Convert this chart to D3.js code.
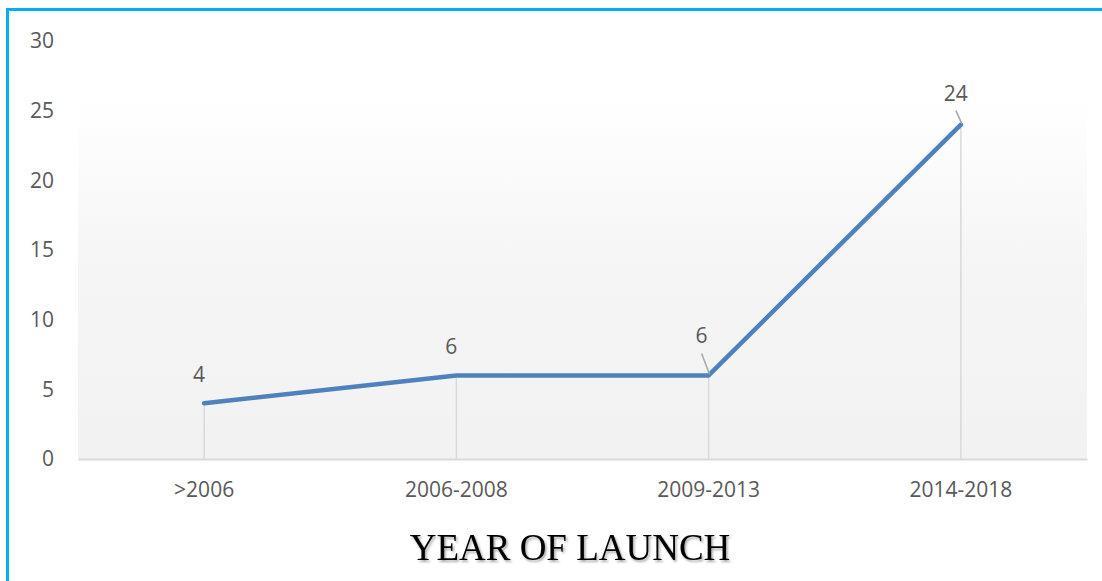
<!DOCTYPE html>
<html>
<head>
<meta charset="utf-8">
<script src="https://cdn.jsdelivr.net/npm/d3@7"></script>
<style>
  html, body { margin: 0; padding: 0; background: #fff; }
  svg { display: block; }
</style>
</head>
<body>
<svg id="chart" width="1102" height="581"></svg>
<script>
// Launch counts by period
const categories = [">2006", "2006-2008", "2009-2013", "2014-2018"];
const counts = [4, 6, 6, 24];
const yTicks = [0, 5, 10, 15, 20, 25, 30];
const axisTitle = "YEAR OF LAUNCH";

const svg = d3.select("#chart");
const W = 1102, H = 581;
const plot = { left: 78, right: 1087, top: 41, bottom: 459 };

// Frame: cyan rule on the left and top edges
svg.append("rect").attr("x", 6).attr("y", 8).attr("width", 3).attr("height", H - 8).attr("fill", "#00B0F0");
svg.append("rect").attr("x", 6).attr("y", 8).attr("width", W - 6).attr("height", 3).attr("fill", "#00B0F0");

const defs = svg.append("defs");
const grad = defs.append("linearGradient").attr("id", "plotFill")
  .attr("x1", 0).attr("y1", 0).attr("x2", 0).attr("y2", 1);
grad.append("stop").attr("offset", "0%").attr("stop-color", "#ffffff");
grad.append("stop").attr("offset", "13%").attr("stop-color", "#ffffff");
grad.append("stop").attr("offset", "55%").attr("stop-color", "#f5f5f5");
grad.append("stop").attr("offset", "100%").attr("stop-color", "#f2f2f2");

const shadow = defs.append("filter").attr("id", "titleShadow")
  .attr("x", "-10%").attr("y", "-30%").attr("width", "120%").attr("height", "160%");
shadow.append("feDropShadow").attr("dx", 1.5).attr("dy", 2).attr("stdDeviation", 1.2)
  .attr("flood-color", "#000").attr("flood-opacity", 0.35);

const x = d3.scaleBand().domain(categories).range([plot.left, plot.right]).padding(0);
const y = d3.scaleLinear().domain([0, 30]).range([plot.bottom, plot.top]);
const cx = d => x(d) + x.bandwidth() / 2;

svg.append("rect")
  .attr("x", plot.left).attr("y", plot.top)
  .attr("width", plot.right - plot.left).attr("height", plot.bottom - plot.top)
  .attr("fill", "url(#plotFill)");

// Drop lines from each point to the category axis
svg.append("g").selectAll("line").data(categories).join("line")
  .attr("x1", d => cx(d)).attr("x2", d => cx(d))
  .attr("y1", (d, i) => y(counts[i])).attr("y2", plot.bottom)
  .attr("stroke", "#d9d9d9").attr("stroke-width", 1.5);

// Category axis
const xAxis = svg.append("g").attr("transform", `translate(0,${plot.bottom})`)
  .call(d3.axisBottom(x).tickSize(0).tickPadding(23));
xAxis.select(".domain").attr("stroke", "#d9d9d9").attr("stroke-width", 2);
xAxis.selectAll("text")
  .attr("font-family", "Open Sans").attr("font-size", 21).attr("fill", "#595959");

// Value axis (labels only)
const yAxis = svg.append("g").attr("transform", `translate(${plot.left},0)`)
  .call(d3.axisLeft(y).tickValues(yTicks).tickSize(0).tickPadding(24));
yAxis.select(".domain").remove();
yAxis.selectAll("text")
  .attr("font-family", "Open Sans").attr("font-size", 21).attr("fill", "#595959");

// Series line
const line = d3.line().x((d, i) => cx(categories[i])).y(d => y(d));
svg.append("path").datum(counts)
  .attr("d", line)
  .attr("fill", "none").attr("stroke", "#4F81BD").attr("stroke-width", 4.5)
  .attr("stroke-linejoin", "round").attr("stroke-linecap", "round");

// Data labels; the last two sit higher with a short leader line
const labelPlace = [
  { dx: -5, dy: -21, leader: false },
  { dx: -5, dy: -21, leader: false },
  { dx: -7, dy: -32, leader: true },
  { dx: -5, dy: -24, leader: true }
];
const labels = svg.append("g");
counts.forEach((v, i) => {
  const px = cx(categories[i]), py = y(v), p = labelPlace[i];
  if (p.leader) {
    labels.append("line")
      .attr("x1", px + p.dx).attr("y1", py + p.dy + 10)
      .attr("x2", px + 1).attr("y2", py - 1)
      .attr("stroke", "#a6a6a6").attr("stroke-width", 1.5);
  }
  labels.append("text")
    .attr("x", px + p.dx).attr("y", py + p.dy)
    .attr("text-anchor", "middle")
    .attr("font-family", "Open Sans").attr("font-size", 21).attr("fill", "#595959")
    .text(v);
});

// Axis title
svg.append("text")
  .attr("x", 570).attr("y", 560)
  .attr("text-anchor", "middle")
  .attr("font-family", "Liberation Serif, Times New Roman, serif")
  .attr("font-size", 37).attr("fill", "#000")
  .attr("filter", "url(#titleShadow)")
  .text(axisTitle);
</script>
</body>
</html>
